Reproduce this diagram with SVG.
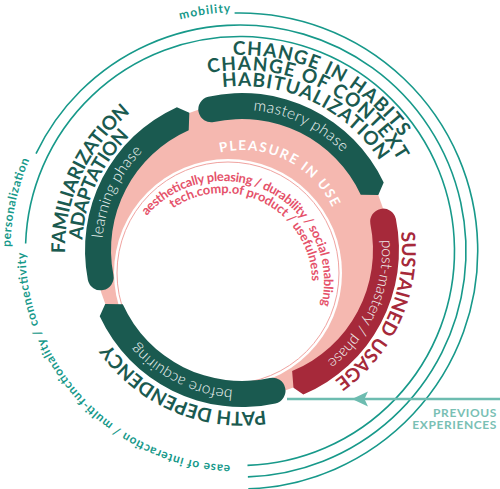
<svg xmlns="http://www.w3.org/2000/svg" width="500" height="489" viewBox="0 0 500 489">
<style>
.g{fill:#1a5a50}
.r{fill:#a6293a}
.lbl{font-family:Lato,"Open Sans","DejaVu Sans",sans-serif;font-weight:700;font-size:19px;fill:#1a5a50}
.lblr{font-family:Lato,"Open Sans","DejaVu Sans",sans-serif;font-weight:700;font-size:19px;fill:#a6293a}
.ph{font-family:Lato,"Open Sans","DejaVu Sans",sans-serif;font-weight:300;font-size:15.5px;fill:#f2f7f6}
.pl{font-family:Lato,"Open Sans","DejaVu Sans",sans-serif;font-weight:700;font-size:13.5px;fill:#ffffff}
.pk{font-family:Lato,"Open Sans","DejaVu Sans",sans-serif;font-weight:700;font-size:12.8px;fill:#e5526a}
.tl{font-family:Lato,"Open Sans","DejaVu Sans",sans-serif;font-weight:700;font-size:12px;fill:#17998a}
.ring{fill:none;stroke:#17998a;stroke-width:1.6}
.pv{font-family:Lato,"Open Sans","DejaVu Sans",sans-serif;font-weight:700;font-size:12px;fill:#79c0b4;letter-spacing:0.6px}
</style>
<defs>
<path id="p-pl" d="M220.02 152.45 A100 100 0 0 1 335.97 215.80"/>
<path id="p-ch1" d="M233.15 55.20 A195 195 0 0 1 410.87 152.50"/>
<path id="p-ch2" d="M208.27 73.19 A180 180 0 0 1 405.13 173.93"/>
<path id="p-ch3" d="M222.58 87.15 A164 164 0 0 1 386.80 173.00"/>
<path id="p-fam" d="M65.03 253.09 A177 177 0 0 1 143.02 103.27"/>
<path id="p-ada" d="M82.32 239.95 A160 160 0 0 1 139.15 127.44"/>
<path id="p-sus" d="M401.00 232.16 A160 160 0 0 1 322.00 388.56"/>
<path id="p-pat" d="M265.11 410.34 A162 162 0 0 1 101.70 331.00"/>
<path id="p-lea" d="M102.49 238.28 A140 140 0 0 1 152.01 142.76"/>
<path id="p-mas" d="M253.23 110.45 A140 140 0 0 1 352.32 163.80"/>
<path id="p-pos" d="M381.64 239.99 A140 140 0 0 1 316.19 368.72"/>
<path id="p-bef" d="M232.72 389.69 A140 140 0 0 1 127.32 330.30"/>
<path id="p-aes" d="M146.78 215.73 A101 101 0 0 1 319.06 313.21"/>
<path id="p-tec" d="M172.85 208.48 A89 89 0 0 1 311.66 289.76"/>
<path id="p-mob" d="M180.15 19.62 A239 239 0 0 1 240.00 12.00"/>
<path id="p-per" d="M10.53 247.00 A229.5 229.5 0 0 1 33.72 150.39"/>
<path id="p-c3" d="M230.27 465.28 A214.5 214.5 0 0 1 25.53 247.26"/>
</defs>

<g id="pleasure-in-use">
<circle cx="242" cy="250" r="147" fill="#f5b8b0"/>
<circle cx="228" cy="273" r="114" fill="#ffffff"/>
<circle cx="228" cy="273" r="111" fill="none" stroke="#f0a3a0" stroke-width="1"/>
<text class="pl"><textPath href="#p-pl" textLength="134.7" lengthAdjust="spacing">PLEASURE IN USE</textPath></text>
<text class="pk"><textPath href="#p-aes" startOffset="0" textLength="123.5" lengthAdjust="spacing">aesthetically pleasing /</textPath></text>
<text class="pk"><textPath href="#p-aes" startOffset="126" textLength="59.4" lengthAdjust="spacing">durability /</textPath></text>
<text class="pk"><textPath href="#p-aes" startOffset="187.9" textLength="80.6" lengthAdjust="spacing">social enabling</textPath></text>
<text class="pk"><textPath href="#p-tec" startOffset="0" textLength="129.3" lengthAdjust="spacing">tech.comp.of product /</textPath></text>
<text class="pk"><textPath href="#p-tec" startOffset="132" textLength="60" lengthAdjust="spacing">usefulness</textPath></text>
</g>

<g id="phase-before">
<path class="g" d="M275.44 403.39 A157 157 0 0 1 99.71 316.35 L105.23 303.88 L122.79 304.33 A131 131 0 0 0 269.90 377.99 A13 13 0 0 1 275.44 403.39 Z"/>
<text class="ph"><textPath href="#p-bef" textLength="109" lengthAdjust="spacing">before acquiring</textPath></text>
<text class="lbl"><textPath href="#p-pat" textLength="177.8" lengthAdjust="spacing">PATH DEPENDENCY</textPath></text>
</g>

<g id="phase-learning">
<path class="g" d="M87.89 279.96 A157 157 0 0 1 176.89 107.13 L189.32 112.76 L188.72 130.33 A131 131 0 0 0 113.41 275.00 A13 13 0 0 1 87.89 279.96 Z"/>
<text class="ph"><textPath href="#p-lea" textLength="97.5" lengthAdjust="spacing">learning phase</textPath></text>
<text class="lbl"><textPath href="#p-fam" textLength="160.3" lengthAdjust="spacing">FAMILIARIZATION</textPath></text>
<text class="lbl"><textPath href="#p-ada" textLength="116.4" lengthAdjust="spacing">ADAPTATION</textPath></text>
</g>

<g id="phase-mastery">
<path class="g" d="M208.29 96.66 A157 157 0 0 1 383.71 182.41 L378.30 194.93 L360.73 194.64 A131 131 0 0 0 213.87 122.05 A13 13 0 0 1 208.29 96.66 Z"/>
<text class="ph"><textPath href="#p-mas" textLength="100.7" lengthAdjust="spacing">mastery phase</textPath></text>
<text class="lbl"><textPath href="#p-ch1" textLength="194.7" lengthAdjust="spacing">CHANGE IN HABITS</textPath></text>
<text class="lbl"><textPath href="#p-ch2" textLength="223.1" lengthAdjust="spacing">CHANGE OF CONTEXT</textPath></text>
<text class="lbl"><textPath href="#p-ch3" textLength="182.6" lengthAdjust="spacing">HABITUALIZATION</textPath></text>
</g>

<g id="phase-post-mastery">
<path class="r" d="M395.84 218.70 A157 157 0 0 1 303.34 394.52 L293.48 387.69 L292.13 371.03 A131 131 0 0 0 370.37 223.88 A13 13 0 0 1 395.84 218.70 Z"/>
<text class="ph"><textPath href="#p-pos" textLength="138.5" lengthAdjust="spacing">post-mastery / phase</textPath></text>
<text class="lblr"><textPath href="#p-sus" textLength="170.3" lengthAdjust="spacing">SUSTAINED USAGE</textPath></text>
</g>

<g id="outer-rings">
<text class="tl"><textPath href="#p-mob" textLength="50.9" lengthAdjust="spacing">mobility</textPath></text>
<path class="ring" d="M234.60 13.06 A238 238 0 0 1 248.31 488.85"/>
<text class="tl"><textPath href="#p-per" textLength="89.5" lengthAdjust="spacing">personalization</textPath></text>
<path class="ring" d="M36.01 153.71 A226 226 0 1 1 247.89 476.86"/>
<text class="tl"><textPath href="#p-c3" textLength="325.3" lengthAdjust="spacing">ease of interaction / multi-functionality / connectivity</textPath></text>
<path class="ring" d="M25.63 243.51 A214.5 214.5 0 1 1 247.49 465.37"/>
</g>

<g id="connectors">
<line x1="287" y1="399" x2="500" y2="399" stroke="#6dbcb0" stroke-width="2.5"/>
<path d="M352 399 L368 391.5 L364.5 399 L368 406.5 Z" fill="#6dbcb0"/>
</g>

<g id="previous-experiences">
<text class="pv" x="497" y="417" text-anchor="end">PREVIOUS</text>
<text class="pv" x="497" y="429" text-anchor="end">EXPERIENCES</text>
</g>
</svg>
